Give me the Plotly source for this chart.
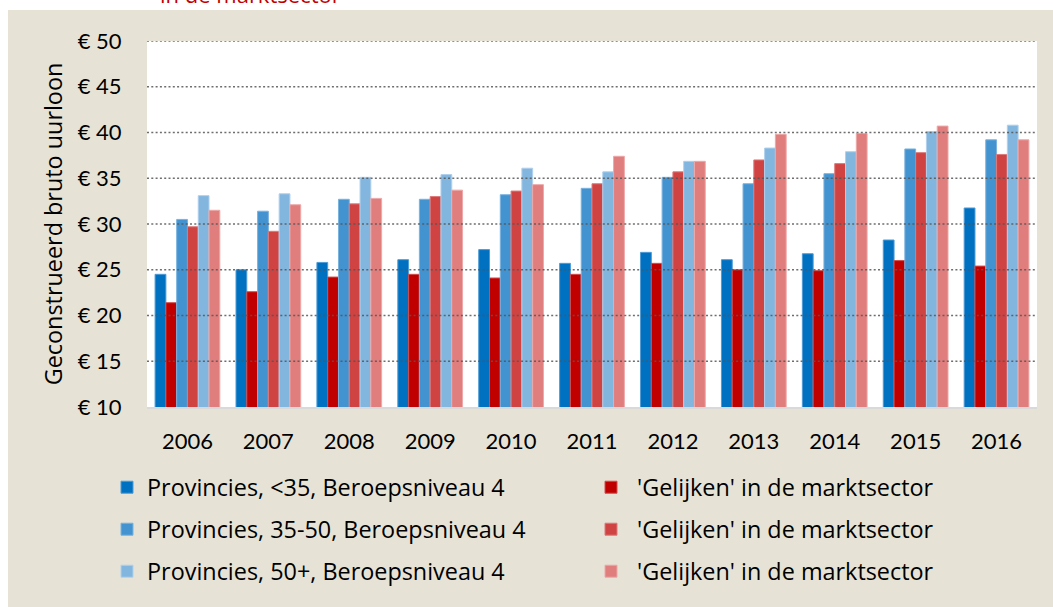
import plotly.graph_objects as go

years = ["2006", "2007", "2008", "2009", "2010", "2011", "2012", "2013", "2014", "2015", "2016"]

prov_lt35 = [24.5, 25.0, 25.8, 26.1, 27.2, 25.7, 26.9, 26.1, 26.75, 28.25, 31.75]
gel_lt35 = [21.4, 22.6, 24.2, 24.5, 24.1, 24.5, 25.7, 25.0, 24.9, 26.0, 25.4]
prov_35_50 = [30.5, 31.4, 32.7, 32.7, 33.2, 33.9, 35.1, 34.4, 35.5, 38.2, 39.2]
gel_35_50 = [29.7, 29.2, 32.2, 33.0, 33.6, 34.4, 35.7, 37.0, 36.6, 37.8, 37.6]
prov_50p = [33.1, 33.3, 35.1, 35.4, 36.1, 35.7, 36.85, 38.3, 37.9, 40.1, 40.8]
gel_50p = [31.5, 32.1, 32.8, 33.7, 34.3, 37.4, 36.85, 39.8, 39.9, 40.7, 39.2]

series_names = [
    "Provincies, <35, Beroepsniveau 4",
    "\u00a0'Gelijken' in de marktsector",
    "Provincies, 35-50, Beroepsniveau 4",
    "\u00a0'Gelijken' in de marktsector",
    "Provincies, 50+, Beroepsniveau 4",
    "\u00a0'Gelijken' in de marktsector",
]
series_values = [prov_lt35, gel_lt35, prov_35_50, gel_35_50, prov_50p, gel_50p]
series_colors = ["#0070C0", "#C00000", "#4393D0", "#D04343", "#82B6DE", "#E07D7D"]
outline_colors = ["#4D9BD6", "#D24D4D", "#7AB2DE", "#DE7A7A", "#B0D0EC", "#EDA8A8"]

y_ticks = [10, 15, 20, 25, 30, 35, 40, 45, 50]
y_tick_text = ["€ %d" % v for v in y_ticks]

title_text = "in de marktsector"
y_title = "Geconstrueerd bruto uurloon"

FONT = "Lato, Liberation Sans, Arial"
FONT2 = "Open Sans, Liberation Sans, Arial"
W, H = 1053, 607
ML, MR, MT, MB = 147, 16, 41, 200
PW, PH = W - ML - MR, H - MT - MB

def px_x(p):
    return (p - ML) / PW

def px_y(p):
    return (H - MB - p) / PH

fig = go.Figure()

legend_pos = [
    (107, 487.5), (591, 487.5),
    (107, 529.5), (591, 529.5),
    (107, 571.5), (591, 571.5),
]

for i, (name, vals, col, ocol) in enumerate(zip(series_names, series_values, series_colors, outline_colors)):
    lg = "legend" if i == 0 else "legend%d" % (i + 1)
    fig.add_trace(go.Bar(
        x=years, y=vals, name=name,
        marker=dict(color=col, line=dict(color=ocol, width=1)),
        legend=lg,
    ))

layout_legends = {}
for i, (lx, ly) in enumerate(legend_pos):
    key = "legend" if i == 0 else "legend%d" % (i + 1)
    layout_legends[key] = dict(
        x=px_x(lx), y=px_y(ly), xanchor="left", yanchor="middle",
        orientation="h", bgcolor="rgba(0,0,0,0)", visible=True,
        font=dict(family=FONT2, size=23.4, color="#000000"),
    )

shapes = [
    dict(type="rect", xref="paper", yref="paper", x0=px_x(8), x1=px_x(W + 5),
         y0=px_y(10), y1=px_y(H + 5), fillcolor="#E6E3D6", line=dict(width=0), layer="below"),
    dict(type="rect", xref="paper", yref="paper", x0=0, x1=1, y0=0, y1=1,
         fillcolor="#FFFFFF", line=dict(width=0), layer="below"),
]
for v in y_ticks[1:]:
    shapes.append(dict(type="line", xref="paper", yref="y", x0=0, x1=1, y0=v, y1=v,
                       line=dict(color="rgba(85,85,85,0.85)", width=1.7, dash="2px,2.3px"),
                       layer="above"))

fig.update_layout(
    width=W, height=H,
    margin=dict(l=ML, r=MR, t=MT, b=MB),
    paper_bgcolor="#FFFFFF", plot_bgcolor="#FFFFFF",
    barmode="group", bargap=0.2, bargroupgap=0,
    showlegend=True,
    font=dict(family=FONT, size=22, color="#000000"),
    shapes=shapes,
    annotations=[dict(text=title_text, xref="paper", yref="paper",
                      x=px_x(250), y=px_y(11), xanchor="center", yanchor="bottom",
                      showarrow=False, font=dict(family=FONT2, size=22, color="#C00000"))],
    **layout_legends,
)

fig.update_xaxes(
    type="category", showgrid=False, showline=True, linecolor="#D9D9D9", linewidth=2,
    ticks="outside", ticklen=14, tickcolor="rgba(0,0,0,0)",
    tickfont=dict(family=FONT, size=22, color="#000000"),
)
fig.update_yaxes(
    range=[10, 50], tickvals=y_ticks, ticktext=y_tick_text, showgrid=False,
    zeroline=False, showline=False,
    ticks="outside", ticklen=20, tickcolor="rgba(0,0,0,0)",
    tickfont=dict(family=FONT, size=22, color="#000000"),
    title=dict(text=y_title, standoff=8, font=dict(family=FONT2, size=23.4, color="#000000")),
)

fig.write_html("out.html", config={"displayModeBar": False},
               post_script="document.body.style.margin='0px';")
